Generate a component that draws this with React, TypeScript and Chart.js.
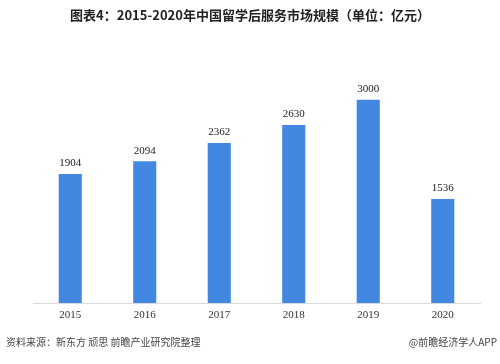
import React, { useEffect, useRef } from "react";
import { Chart, registerables } from "chart.js";

Chart.register(...registerables);

const categories = ["2015", "2016", "2017", "2018", "2019", "2020"];
const marketSize = [1904, 2094, 2362, 2630, 3000, 1536];
const titleText = "图表4：2015-2020年中国留学后服务市场规模（单位：亿元）";
const sourceText = "资料来源：新东方 顽思 前瞻产业研究院整理";
const brandText = "@前瞻经济学人APP";

const textPlugin = {
  id: "texts",
  afterDatasetsDraw(chart: any) {
    const ctx = chart.ctx;
    ctx.save();
    // value labels
    const meta = chart.getDatasetMeta(0);
    ctx.font = "11px 'Liberation Serif', 'Times New Roman', serif";
    ctx.fillStyle = "#222";
    ctx.textAlign = "center";
    ctx.textBaseline = "bottom";
    meta.data.forEach((bar: any, i: number) => {
      ctx.fillText(String(marketSize[i]), bar.x, bar.y - 5);
    });
    // title
    ctx.font = "bold 13px 'Noto Sans CJK SC', sans-serif";
    ctx.fillStyle = "#222";
    ctx.textBaseline = "middle";
    ctx.fillText(titleText, 250, 15);
    // footer
    ctx.font = "10px 'Noto Sans CJK SC', sans-serif";
    ctx.fillStyle = "#444";
    ctx.textAlign = "left";
    ctx.fillText(sourceText, 6, 342);
    ctx.textAlign = "right";
    ctx.fillText(brandText, 497, 342);
    ctx.restore();
  },
};

export default function App() {
  const ref = useRef<HTMLCanvasElement>(null);
  useEffect(() => {
    document.body.style.margin = "0";
    const chart = new Chart(ref.current!, {
      type: "bar",
      data: {
        labels: categories,
        datasets: [
          {
            data: marketSize,
            backgroundColor: "#4287e0",
            barPercentage: 0.62,
            categoryPercentage: 0.5,
          },
        ],
      },
      options: {
        responsive: false,
        animation: false,
        layout: { padding: { top: 66, left: 33, right: 20, bottom: 0 } },
        plugins: { legend: { display: false }, tooltip: { enabled: false }, title: { display: false } },
        scales: {
          y: { display: false, min: 0, max: 3500 },
          x: {
            grid: { display: false, drawTicks: false },
            border: { display: true, color: "#d9d9d9" },
            ticks: {
              padding: 6,
              color: "#333",
              font: { family: "'Liberation Serif', 'Times New Roman', serif", size: 11 },
            },
            afterFit: (s: any) => {
              s.height = 61;
            },
          },
        },
      },
      plugins: [textPlugin],
    });
    return () => chart.destroy();
  }, []);
  return <canvas ref={ref} width={500} height={364} style={{ display: "block" }} />;
}
